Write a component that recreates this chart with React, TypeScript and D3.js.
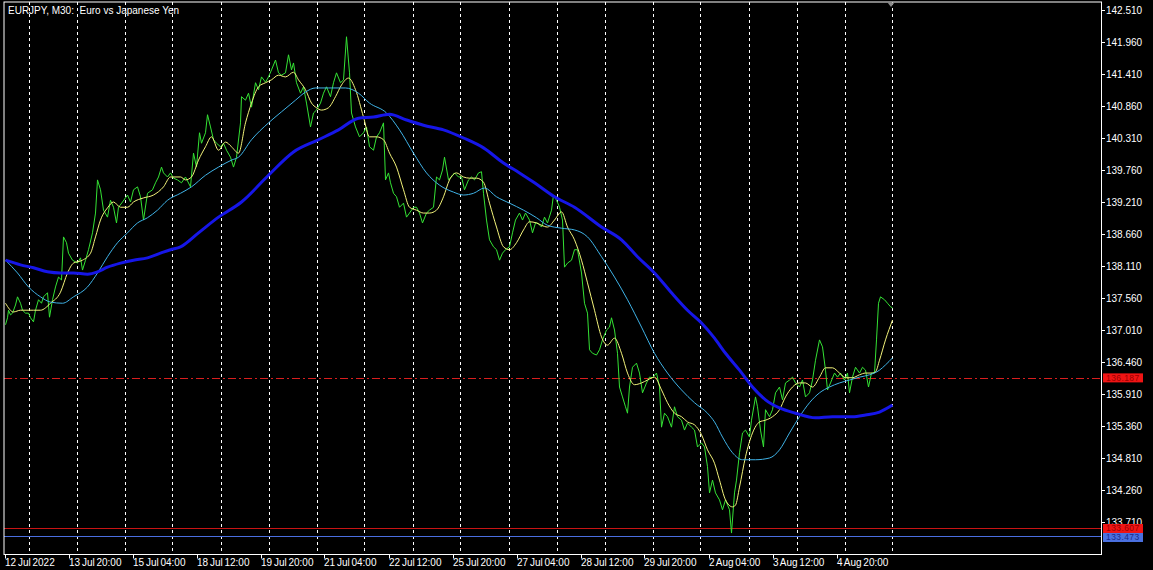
import { useEffect, useRef } from "react";
import * as d3 from "d3";

// EURJPY M30 — bar index counts half-hour bars from 12 Jul 2022 12:00
const title = "EURJPY, M30:  Euro vs Japanese Yen";

const priceTicks = [
  142.51, 141.96, 141.41, 140.86, 140.31, 139.76, 139.21, 138.66, 138.11,
  137.56, 137.01, 136.46, 135.91, 135.36, 134.81, 134.26, 133.71,
];

const timeLabels = [
  "12 Jul 2022", "13 Jul 20:00", "15 Jul 04:00", "18 Jul 12:00",
  "19 Jul 20:00", "21 Jul 04:00", "22 Jul 12:00", "25 Jul 20:00",
  "27 Jul 04:00", "28 Jul 12:00", "29 Jul 20:00", "2 Aug 04:00",
  "3 Aug 12:00", "4 Aug 20:00",
];
const timeLabelBars = [0, 64, 128, 192, 256, 320, 384, 448, 512, 576, 640, 704, 768, 832];

// day separators (bar index)
const daySeparators = [
  24, 72, 120, 168, 216, 264, 312, 360, 408, 456, 504, 552, 600, 648, 696,
  744, 792, 840, 888,
];

// close prices [bar, price]
const closes: [number, number][] = [
  [1, 137.10], [3, 137.22], [4, 137.35], [6, 137.27], [8, 137.30], [11, 137.44],
  [13, 137.58], [16, 137.47], [18, 137.35], [21, 137.30], [24, 137.30], [26, 137.22],
  [29, 137.15], [31, 137.35], [34, 137.53], [37, 137.47], [39, 137.58], [43, 137.65],
  [45, 137.23], [48, 137.53], [51, 137.75], [54, 137.92], [57, 137.87], [59, 138.61],
  [62, 138.51], [64, 138.33], [68, 138.21], [73, 138.16], [76, 138.25], [78, 138.04],
  [81, 138.21], [84, 138.39], [88, 138.68], [91, 139.02], [93, 139.59], [96, 139.42],
  [99, 139.07], [103, 138.95], [106, 139.24], [109, 139.12], [112, 138.85], [114, 139.12],
  [118, 139.21], [123, 139.33], [126, 139.21], [129, 139.42], [133, 139.47], [136, 139.30],
  [139, 138.90], [143, 139.36], [148, 139.42], [151, 139.54], [154, 139.64], [157, 139.81],
  [159, 139.71], [163, 139.64], [166, 139.71], [169, 139.62], [173, 139.59], [177, 139.54],
  [181, 139.64], [186, 139.47], [189, 140.05], [192, 139.81], [195, 140.40], [197, 140.22],
  [201, 140.40], [203, 140.71], [206, 140.50], [209, 140.28], [212, 140.22], [216, 140.16],
  [219, 140.22], [222, 140.10], [226, 139.98], [229, 139.81], [232, 139.98], [236, 140.57],
  [237, 141.02], [241, 140.96], [244, 141.08], [247, 140.84], [251, 141.26], [254, 141.14],
  [257, 141.36], [261, 141.27], [264, 141.36], [267, 141.48], [271, 141.65], [274, 141.43],
  [277, 141.39], [281, 141.43], [284, 141.74], [287, 141.48], [289, 141.60], [292, 141.26],
  [296, 141.08], [299, 141.19], [302, 140.91], [306, 140.50], [309, 140.74], [312, 140.79],
  [316, 140.91], [319, 141.08], [322, 141.19], [326, 141.02], [329, 141.26], [332, 141.43],
  [336, 141.26], [339, 141.31], [342, 142.05], [345, 141.43], [347, 140.74], [351, 140.50],
  [355, 140.33], [359, 140.40], [362, 140.50], [365, 140.16], [369, 140.10], [372, 140.33],
  [375, 140.40], [379, 140.57], [381, 139.59], [384, 139.71], [386, 139.54], [389, 139.36],
  [392, 139.30], [395, 139.12], [399, 139.19], [402, 138.95], [405, 139.02], [409, 139.12],
  [412, 139.12], [415, 139.02], [418, 138.85], [422, 139.02], [425, 139.07], [429, 139.12],
  [432, 139.64], [435, 139.59], [438, 139.76], [440, 139.98], [444, 139.59], [447, 139.64],
  [450, 139.71], [454, 139.64], [457, 139.64], [460, 139.42], [464, 139.59], [467, 139.64],
  [470, 139.59], [474, 139.71], [477, 139.73], [479, 139.36], [482, 138.90], [485, 138.56],
  [489, 138.44], [492, 138.39], [495, 138.21], [498, 138.33], [501, 138.39], [505, 138.44],
  [508, 138.68], [511, 138.90], [515, 139.02], [518, 138.90], [521, 139.02], [525, 138.90],
  [528, 138.68], [531, 138.85], [533, 138.85], [537, 138.78], [540, 138.95], [543, 138.85],
  [547, 139.07], [549, 139.33], [552, 139.24], [555, 139.12], [558, 138.90], [560, 138.09],
  [563, 138.16], [567, 138.21], [570, 138.39], [573, 138.39], [577, 137.99], [580, 137.47],
  [583, 137.30], [585, 136.67], [588, 136.61], [592, 136.58], [595, 136.67], [598, 136.84],
  [602, 137.01], [605, 137.06], [607, 137.22], [610, 137.01], [613, 136.61], [615, 136.03],
  [618, 135.86], [621, 135.69], [623, 135.58], [625, 136.03], [628, 136.37], [632, 136.44],
  [635, 136.27], [638, 135.93], [642, 136.10], [645, 136.20], [648, 136.19], [652, 136.27],
  [655, 136.03], [657, 135.34], [660, 135.58], [663, 135.52], [667, 135.34], [670, 135.69],
  [673, 135.52], [677, 135.46], [680, 135.29], [683, 135.41], [687, 135.34], [690, 135.29],
  [693, 135.00], [697, 135.07], [700, 135.00], [703, 134.66], [705, 134.21], [708, 134.43],
  [711, 134.21], [715, 134.09], [718, 133.92], [721, 134.09], [725, 133.92], [727, 133.52],
  [730, 134.21], [732, 134.43], [735, 134.90], [738, 135.24], [741, 135.29], [745, 135.17],
  [747, 135.46], [751, 135.86], [753, 135.69], [756, 135.29], [759, 135.00], [761, 135.64],
  [765, 135.52], [768, 135.64], [771, 135.93], [775, 136.03], [778, 135.81], [781, 136.10],
  [785, 136.15], [788, 136.20], [791, 136.10], [795, 136.03], [798, 136.15], [801, 135.86],
  [805, 135.93], [808, 136.15], [811, 136.49], [815, 136.84], [818, 136.72], [821, 136.32],
  [823, 135.98], [826, 136.10], [830, 136.27], [833, 136.20], [836, 136.27], [840, 136.15],
  [843, 136.27], [845, 135.93], [848, 136.20], [851, 136.37], [855, 136.27], [858, 136.37],
  [861, 136.32], [864, 136.03], [867, 136.27], [870, 136.27], [872, 136.84], [874, 137.47],
  [876, 137.58], [880, 137.53], [883, 137.47], [886, 137.41], [888, 137.39],
];

// fast moving average (yellow)
const maFast: [number, number][] = [
  [1, 137.47], [9, 137.32], [16, 137.35], [29, 137.35], [36, 137.35], [46, 137.47],
  [56, 137.66], [63, 137.99], [69, 138.16], [78, 138.21], [86, 138.33], [91, 138.61],
  [96, 138.90], [103, 139.11], [109, 139.21], [116, 139.12], [123, 139.12], [129, 139.21],
  [139, 139.28], [149, 139.33], [159, 139.47], [166, 139.64], [176, 139.64], [181, 139.59],
  [187, 139.64], [194, 139.93], [201, 140.16], [207, 140.33], [214, 140.10], [221, 140.24],
  [227, 140.16], [234, 140.05], [241, 140.57], [247, 140.91], [254, 141.19], [261, 141.26],
  [267, 141.31], [274, 141.39], [281, 141.36], [289, 141.44], [294, 141.31], [301, 141.14],
  [307, 140.91], [312, 140.83], [317, 140.79], [324, 140.83], [331, 141.02], [337, 141.22],
  [344, 141.34], [351, 141.14], [359, 140.67], [365, 140.33], [372, 140.33], [379, 140.28],
  [385, 140.05], [392, 139.81], [399, 139.42], [405, 139.12], [412, 139.07], [419, 139.02],
  [425, 139.02], [432, 139.07], [439, 139.30], [445, 139.59], [452, 139.71], [459, 139.64],
  [465, 139.62], [472, 139.62], [479, 139.55], [485, 139.19], [492, 138.78], [499, 138.44],
  [505, 138.39], [512, 138.51], [519, 138.73], [525, 138.87], [532, 138.85], [537, 138.81],
  [543, 138.78], [550, 138.90], [557, 139.04], [563, 138.78], [570, 138.56], [577, 138.21],
  [583, 137.82], [590, 137.35], [597, 136.89], [603, 136.75], [610, 136.87], [617, 136.61],
  [623, 136.27], [630, 136.07], [637, 136.10], [643, 136.15], [650, 136.20], [657, 135.98],
  [663, 135.76], [670, 135.58], [677, 135.52], [683, 135.43], [690, 135.38], [697, 135.21],
  [703, 134.95], [710, 134.72], [715, 134.43], [721, 134.09], [728, 133.97], [731, 134.00],
  [735, 134.31], [741, 134.83], [748, 135.24], [755, 135.43], [761, 135.46], [768, 135.52],
  [775, 135.64], [781, 135.86], [788, 136.03], [795, 136.10], [801, 136.10], [808, 136.03],
  [815, 136.20], [821, 136.36], [828, 136.36], [835, 136.27], [841, 136.19], [848, 136.19],
  [855, 136.24], [861, 136.27], [868, 136.27], [871, 136.29], [875, 136.49], [881, 136.84],
  [888, 137.18],
];

// medium moving average (light blue)
const maMid: [number, number][] = [
  [1, 138.21], [13, 137.99], [24, 137.75], [36, 137.58], [46, 137.49], [58, 137.47],
  [69, 137.58], [83, 137.75], [93, 137.99], [103, 138.27], [113, 138.51], [123, 138.68],
  [133, 138.85], [143, 138.94], [153, 139.07], [163, 139.24], [176, 139.36], [187, 139.47],
  [201, 139.67], [214, 139.81], [227, 139.93], [234, 139.98], [247, 140.28], [264, 140.57],
  [277, 140.76], [291, 140.96], [301, 141.10], [311, 141.17], [324, 141.17], [341, 141.17],
  [354, 141.08], [365, 140.91], [382, 140.74], [395, 140.45], [409, 140.05], [422, 139.71],
  [435, 139.50], [449, 139.38], [459, 139.33], [469, 139.36], [480, 139.45], [492, 139.30],
  [505, 139.19], [519, 139.07], [532, 138.94], [543, 138.81], [557, 138.76], [570, 138.73],
  [583, 138.61], [597, 138.27], [610, 137.92], [623, 137.53], [637, 137.06], [650, 136.61],
  [663, 136.27], [677, 135.98], [690, 135.76], [703, 135.58], [710, 135.43], [718, 135.17],
  [728, 134.90], [738, 134.78], [751, 134.78], [765, 134.81], [775, 134.95], [785, 135.24],
  [795, 135.52], [805, 135.76], [815, 135.93], [825, 136.03], [835, 136.10], [845, 136.15],
  [855, 136.20], [865, 136.24], [875, 136.32], [881, 136.41], [888, 136.53],
];

// slow moving average (thick blue)
const maSlow: [number, number][] = [
  [1, 138.21], [16, 138.13], [29, 138.08], [43, 138.01], [56, 137.99], [69, 137.99],
  [83, 137.97], [93, 138.01], [103, 138.09], [116, 138.16], [129, 138.21], [143, 138.25],
  [156, 138.33], [166, 138.39], [176, 138.44], [194, 138.68], [214, 138.95], [237, 139.21],
  [264, 139.67], [289, 140.07], [314, 140.28], [334, 140.45], [354, 140.65], [369, 140.67],
  [385, 140.72], [402, 140.62], [419, 140.53], [439, 140.45], [459, 140.31], [479, 140.14],
  [499, 139.88], [515, 139.71], [530, 139.54], [550, 139.30], [570, 139.12], [597, 138.78],
  [617, 138.56], [633, 138.27], [650, 137.99], [667, 137.65], [683, 137.35], [697, 137.13],
  [710, 136.87], [721, 136.61], [735, 136.32], [748, 136.03], [761, 135.81], [775, 135.67],
  [791, 135.58], [811, 135.50], [828, 135.52], [848, 135.52], [861, 135.55], [875, 135.60],
  [888, 135.72],
];

// horizontal price levels; tagShift nudges the axis tag so stacked tags don't collide
const levels = [
  { price: 136.187, label: "136.187", line: "#d81e1e", box: "#f01414", text: "#9a0000", dash: "8,3,2,3", tagShift: 0 },
  { price: 133.607, label: "133.607", line: "#c81414", box: "#f01414", text: "#9a0000", dash: "", tagShift: 0.5 },
  { price: 133.473, label: "133.473", line: "#4a6ee0", box: "#4a70e0", text: "#1a2a8a", dash: "", tagShift: 1.7 },
];

const W = 1153;
const H = 570;
const FONT = "'Liberation Sans', Arial, sans-serif";

export default function App() {
  const svgRef = useRef<SVGSVGElement>(null);

  useEffect(() => {
    if (!svgRef.current) return;
    const frame = { left: 4, top: 2, right: 1101.5, bottom: 554.5 };

    const svg = d3.select(svgRef.current);
    svg.selectAll("*").remove();

    svg.append("rect").attr("width", W).attr("height", H).attr("fill", "#000");

    const x = d3.scaleLinear().domain([0, 1097]).range([4.5, 1101.5]);
    const y = d3.scaleLinear().domain([133.71, 142.51]).range([522, 10]);

    svg
      .append("defs")
      .append("clipPath")
      .attr("id", "plot")
      .append("rect")
      .attr("x", frame.left)
      .attr("y", frame.top)
      .attr("width", frame.right - frame.left)
      .attr("height", frame.bottom - frame.top);

    const g = svg.append("g").attr("clip-path", "url(#plot)");

    // day separators
    g.selectAll(".sep")
      .data(daySeparators)
      .enter()
      .append("line")
      .attr("x1", (d) => Math.round(x(d)) + 0.5)
      .attr("x2", (d) => Math.round(x(d)) + 0.5)
      .attr("y1", frame.top)
      .attr("y2", frame.bottom)
      .attr("stroke", "#ffffff")
      .attr("stroke-width", 1)
      .attr("stroke-dasharray", "3,3");

    const line = d3
      .line<[number, number]>()
      .x((d) => x(d[0]))
      .y((d) => y(d[1]));
    const smooth = d3
      .line<[number, number]>()
      .x((d) => x(d[0]))
      .y((d) => y(d[1]))
      .curve(d3.curveMonotoneX);

    // price levels
    levels.forEach((l) => {
      g.append("line")
        .attr("x1", frame.left)
        .attr("x2", frame.right)
        .attr("y1", Math.round(y(l.price)) + 0.5)
        .attr("y2", Math.round(y(l.price)) + 0.5)
        .attr("stroke", l.line)
        .attr("stroke-width", 1)
        .attr("stroke-dasharray", l.dash || null);
    });

    g.append("path")
      .datum(closes)
      .attr("fill", "none")
      .attr("stroke", "#34e234")
      .attr("stroke-width", 1)
      .attr("stroke-linejoin", "round")
      .attr("d", line);

    g.append("path")
      .datum(maFast)
      .attr("fill", "none")
      .attr("stroke", "#f2f27a")
      .attr("stroke-width", 1)
      .attr("d", smooth);

    g.append("path")
      .datum(maMid)
      .attr("fill", "none")
      .attr("stroke", "#3fb2e6")
      .attr("stroke-width", 1)
      .attr("d", smooth);

    g.append("path")
      .datum(maSlow)
      .attr("fill", "none")
      .attr("stroke", "#1616e8")
      .attr("stroke-width", 3)
      .attr("d", smooth);

    // frame
    svg
      .append("rect")
      .attr("x", frame.left)
      .attr("y", frame.top)
      .attr("width", frame.right - frame.left)
      .attr("height", frame.bottom - frame.top)
      .attr("fill", "none")
      .attr("stroke", "#ffffff")
      .attr("stroke-width", 1);

    // shift marker
    svg
      .append("path")
      .attr("d", `M${x(886.5) - 3.5},2.5 L${x(886.5) + 3.5},2.5 L${x(886.5)},7 Z`)
      .attr("fill", "#8a8a8a");

    // title
    svg
      .append("text")
      .attr("x", 8)
      .attr("y", 14)
      .attr("fill", "#ffffff")
      .style("font", `10px ${FONT}`)
      .style("white-space", "pre")
      .text(title);

    // price axis
    const yAxis = svg.append("g");
    priceTicks.forEach((p) => {
      const yy = Math.round(y(p)) + 0.5;
      yAxis
        .append("line")
        .attr("x1", frame.right)
        .attr("x2", frame.right + 3.5)
        .attr("y1", yy)
        .attr("y2", yy)
        .attr("stroke", "#ffffff");
      yAxis
        .append("text")
        .attr("x", 1106)
        .attr("y", yy + 3.5)
        .attr("fill", "#ffffff")
        .style("font", `10px ${FONT}`)
        .text(p.toFixed(3));
    });

    // price tags
    levels.forEach((l) => {
      const yy = y(l.price) + l.tagShift;
      yAxis
        .append("rect")
        .attr("x", 1103)
        .attr("y", yy - 4.5)
        .attr("width", 40)
        .attr("height", 9)
        .attr("fill", l.box);
      yAxis
        .append("text")
        .attr("x", 1106)
        .attr("y", yy + 3)
        .attr("fill", l.text)
        .style("font", `8.5px ${FONT}`)
        .style("letter-spacing", "0.4px")
        .text(l.label);
    });

    // time axis
    const xAxis = svg.append("g");
    timeLabels.forEach((t, i) => {
      const xx = Math.round(x(timeLabelBars[i])) + 0.5;
      xAxis
        .append("line")
        .attr("x1", xx)
        .attr("x2", xx)
        .attr("y1", frame.bottom)
        .attr("y2", frame.bottom + 4)
        .attr("stroke", "#ffffff");
      xAxis
        .append("text")
        .attr("x", xx - 0.5)
        .attr("y", 566)
        .attr("fill", "#ffffff")
        .style("font", `10px ${FONT}`)
        .style("word-spacing", "-1px")
        .text(t);
    });
  }, []);

  return (
    <svg
      ref={svgRef}
      width={W}
      height={H}
      style={{ position: "fixed", left: 0, top: 0, display: "block" }}
    />
  );
}
